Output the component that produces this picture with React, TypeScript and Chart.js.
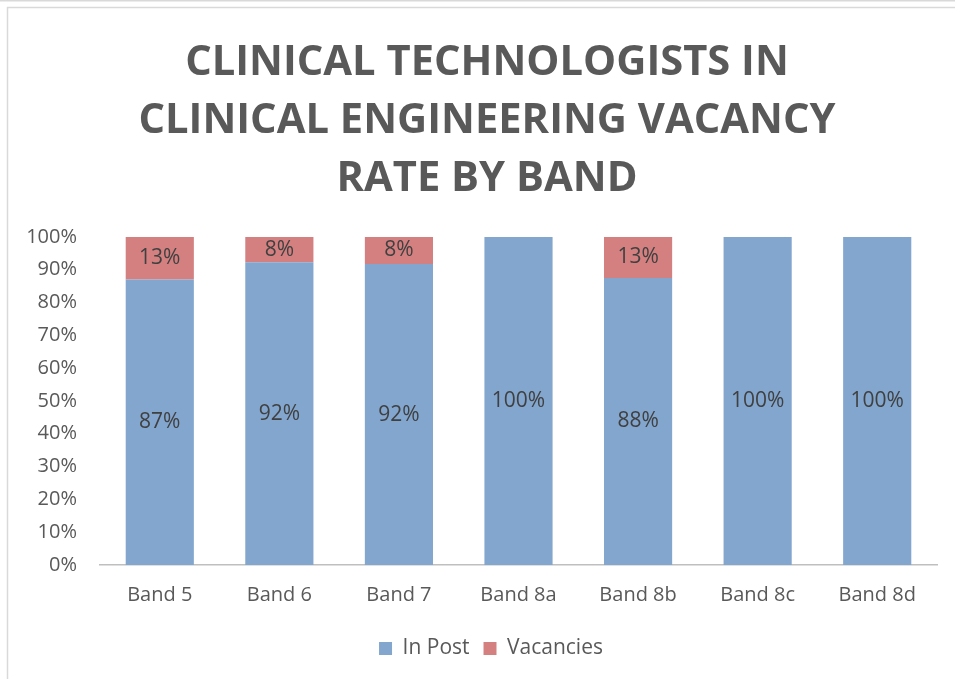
import React, { useEffect, useRef } from "react";
import { Chart, registerables } from "chart.js";

Chart.register(...registerables);

const categories = ["Band 5", "Band 6", "Band 7", "Band 8a", "Band 8b", "Band 8c", "Band 8d"];
const inPost = [87, 92.3, 91.7, 100, 87.5, 100, 100];
const vacancies = [13, 7.7, 8.3, 0, 12.5, 0, 0];
const yTicks = [0, 10, 20, 30, 40, 50, 60, 70, 80, 90, 100];
const titleLines = ["CLINICAL TECHNOLOGISTS IN", "CLINICAL ENGINEERING VACANCY", "RATE BY BAND"];

const FONT = "'Open Sans', 'Liberation Sans', sans-serif";

const framePlugin = {
  id: "frame",
  beforeDraw(chart: any) {
    const ctx = chart.ctx;
    ctx.save();
    ctx.fillStyle = "#ffffff";
    ctx.fillRect(0, 0, chart.width, chart.height);
    ctx.strokeStyle = "#d9d9d9";
    ctx.lineWidth = 1.5;
    ctx.beginPath();
    ctx.moveTo(0, 0.75);
    ctx.lineTo(chart.width, 0.75);
    ctx.stroke();
    ctx.beginPath();
    ctx.moveTo(7.5, chart.height);
    ctx.lineTo(7.5, 7.5);
    ctx.lineTo(chart.width, 7.5);
    ctx.stroke();
    ctx.restore();
  },
};

// Center title and legend on the whole (clipped) chart frame rather than the padded area
const centerPlugin = {
  id: "centerBoxes",
  afterLayout(chart: any) {
    if (chart.titleBlock) {
      chart.titleBlock.left = 37;
    }
    if (chart.legend) {
      const shift = 45 - chart.legend.left;
      chart.legend.left = 45;
      chart.legend.width = chart.legend.right - 45;
      if (chart.legend.legendHitBoxes) {
        chart.legend.legendHitBoxes.forEach((h: any) => (h.left += shift / 2));
      }
    }
  },
};

const labelPlugin = {
  id: "barLabels",
  afterDatasetsDraw(chart: any) {
    const ctx = chart.ctx;
    ctx.save();
    ctx.font = `21px ${FONT}`;
    ctx.fillStyle = "#404040";
    ctx.textAlign = "center";
    ctx.textBaseline = "middle";
    chart.data.datasets.forEach((ds: any, di: number) => {
      const meta = chart.getDatasetMeta(di);
      meta.data.forEach((bar: any, i: number) => {
        const v = ds.data[i];
        if (!v) return;
        const props = bar.getProps(["x", "y", "base"], true);
        ctx.fillText(Math.round(v) + "%", props.x, (props.y + props.base) / 2);
      });
    });
    ctx.restore();
  },
};

export default function App() {
  const ref = useRef<HTMLCanvasElement>(null);
  useEffect(() => {
    if (!ref.current) return;
    const chart = new Chart(ref.current, {
      type: "bar",
      data: {
        labels: categories,
        datasets: [
          {
            label: "In Post",
            data: inPost,
            backgroundColor: "#82a6ce",
            borderWidth: 0,
          },
          {
            label: "Vacancies",
            data: vacancies,
            backgroundColor: "#d48080",
            borderWidth: 0,
          },
        ],
      },
      options: {
        animation: false,
        responsive: false,
        maintainAspectRatio: false,
        layout: { padding: { left: 12, right: 18, top: 0, bottom: 10 } },
        datasets: { bar: { barPercentage: 1, categoryPercentage: 0.57 } },
        scales: {
          x: {
            stacked: true,
            grid: { display: false, drawTicks: false },
            border: { display: true, color: "#bfbfbf", width: 1.5 },
            ticks: { color: "#595959", font: { family: FONT, size: 20 }, padding: 18 },
            afterFit(scale: any) {
              scale.height = 59;
            },
          },
          y: {
            stacked: true,
            min: 0,
            max: 100,
            grid: { display: false, drawTicks: false },
            border: { display: false },
            afterBuildTicks(scale: any) {
              scale.ticks = yTicks.map((v) => ({ value: v }));
            },
            ticks: {
              color: "#595959",
              font: { family: FONT, size: 20 },
              padding: 23,
              callback: (v: any) => v + "%",
            },
            afterFit(scale: any) {
              scale.width = 88;
            },
          },
        },
        plugins: {
          title: {
            display: true,
            text: titleLines,
            color: "#595959",
            font: { family: FONT, size: 41.7, weight: "bold", lineHeight: 1.39 },
            padding: { top: 34, bottom: 29 },
          },
          legend: {
            position: "bottom",
            labels: {
              color: "#595959",
              font: { family: FONT, size: 21 },
              boxWidth: 13,
              boxHeight: 13,
              padding: 14,
            },
          },
          tooltip: { enabled: false },
        },
      },
      plugins: [framePlugin, centerPlugin, labelPlugin],
    });
    return () => chart.destroy();
  }, []);
  return (
    <div style={{ position: "absolute", left: 0, top: 0, width: 955, height: 679 }}>
      <canvas ref={ref} width={955} height={679} style={{ display: "block" }} />
    </div>
  );
}
